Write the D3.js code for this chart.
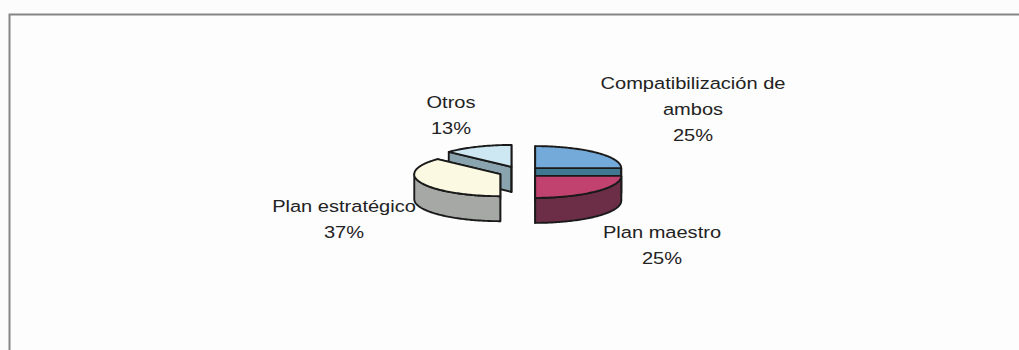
<!DOCTYPE html>
<html>
<head>
<meta charset="utf-8">
<script src="https://cdn.jsdelivr.net/npm/d3@7"></script>
<style>
  html, body { margin: 0; padding: 0; background: #fcfcfc; }
  svg { display: block; }
  text { font-family: "Liberation Sans", Arial, sans-serif; fill: #222; }
</style>
</head>
<body>
<svg id="chart" width="1019" height="350"></svg>
<script>
// Survey answers: which planning document is used
const categories = ["Compatibilización de ambos", "Plan maestro", "Plan estratégico", "Otros"];
const values = [25, 25, 37, 13];
const labelLines = [
  ["Compatibilización de", "ambos", "25%"],
  ["Plan maestro", "25%"],
  ["Plan estratégico", "37%"],
  ["Otros", "13%"]
];
const topColors = ["#74aad9", "#c2426f", "#fbf9e2", "#cde8f3"];
const sideColors = ["#3f7890", "#6c2e47", "#a5a8a4", "#8aa4af"];

const svg = d3.select("#chart");
const W = 1019, H = 350;

// Chart frame
svg.append("rect")
  .attr("x", 9.5).attr("y", 14.5)
  .attr("width", W + 20).attr("height", H + 20)
  .attr("fill", "#fdfdfd")
  .attr("stroke", "#858585").attr("stroke-width", 2);

// 3D pie geometry
const cx = 520, cy = 172;    // centre of the top face
const rx = 86, ry = 22;      // ellipse radii of the tilted disc
const depth = 25;            // thickness of the disc
const explode = 21.5;        // offset of each slice from the centre
const k = ry / rx;

const pie = d3.pie().sort(null).startAngle(0).endAngle(2 * Math.PI).value(d => d);
const arcs = pie(values).map((a, i) => {
  const mid = (a.startAngle + a.endAngle) / 2;
  return {
    ...a, i, mid,
    ox: cx + explode * Math.sin(mid),
    oy: cy - explode * Math.cos(mid) * k
  };
});

const rim = (s, ang, z) => [s.ox + rx * Math.sin(ang), s.oy - ry * Math.cos(ang) + z];
const arcPts = (s, a0, a1, z) => {
  const n = Math.max(2, Math.ceil((a1 - a0) / 0.02));
  return d3.range(n + 1).map(j => rim(s, a0 + (a1 - a0) * j / n, z));
};
const line = d3.line().curve(d3.curveLinear);

const strokeCol = "#1a1a1a", strokeW = 1.9;

// Paint back slices first
const order = arcs.slice().sort((a, b) => (-Math.cos(a.mid)) - (-Math.cos(b.mid)));

const gPie = svg.append("g");
order.forEach(s => {
  const g = gPie.append("g");
  const c0 = [s.ox, s.oy], c1 = [s.ox, s.oy + depth];
  // cut faces along both radii
  [s.startAngle, s.endAngle].forEach(ang => {
    const p0 = rim(s, ang, 0), p1 = rim(s, ang, depth);
    g.append("path")
      .attr("d", line([c0, p0, p1, c1]) + "Z")
      .attr("fill", sideColors[s.i])
      .attr("stroke", strokeCol).attr("stroke-width", strokeW)
      .attr("stroke-linejoin", "round");
  });
  // outer wall on the front half of the disc
  const w0 = Math.max(s.startAngle, Math.PI / 2);
  const w1 = Math.min(s.endAngle, 3 * Math.PI / 2);
  if (w1 > w0) {
    const upper = arcPts(s, w0, w1, 0);
    const lower = arcPts(s, w0, w1, depth).reverse();
    g.append("path")
      .attr("d", line(upper.concat(lower)) + "Z")
      .attr("fill", sideColors[s.i])
      .attr("stroke", strokeCol).attr("stroke-width", strokeW)
      .attr("stroke-linejoin", "round");
  }
  // top face
  g.append("path")
    .attr("d", line([c0].concat(arcPts(s, s.startAngle, s.endAngle, 0))) + "Z")
    .attr("fill", topColors[s.i])
    .attr("stroke", strokeCol).attr("stroke-width", strokeW)
    .attr("stroke-linejoin", "round");
});

// Data labels
const labelPos = [
  { x: 693, y: 89 },
  { x: 662, y: 238 },
  { x: 344, y: 212 },
  { x: 451, y: 108 }
];
const lineGap = 26;
arcs.forEach(s => {
  const p = labelPos[s.i];
  const g = svg.append("g")
    .attr("transform", `translate(${p.x},${p.y}) scale(1.18,1)`);
  labelLines[s.i].forEach((t, j) => {
    g.append("text")
      .attr("x", 0).attr("y", j * lineGap)
      .attr("text-anchor", "middle")
      .attr("font-size", 17)
      .text(t);
  });
});
</script>
</body>
</html>
